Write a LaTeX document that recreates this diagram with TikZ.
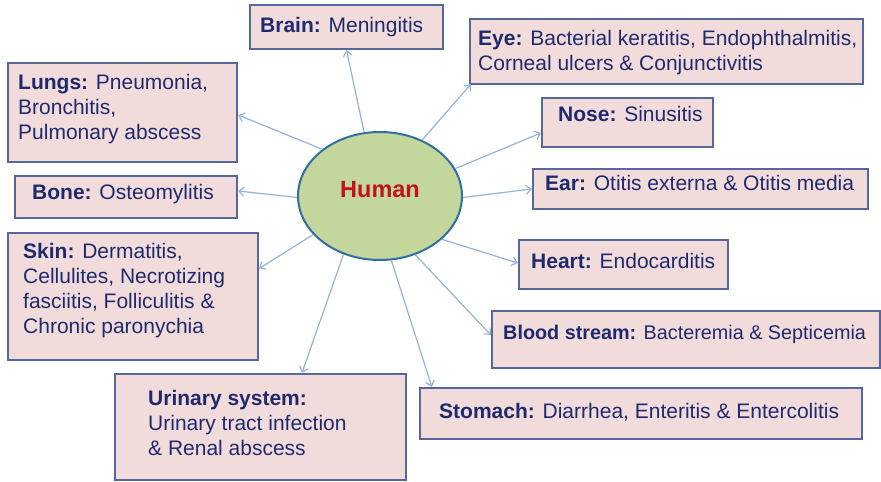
\documentclass[tikz,border=0pt]{standalone}
\usepackage{fontspec}
\setmainfont{Liberation Sans}
\usetikzlibrary{arrows.meta,shapes.geometric}
\definecolor{txtnavy}{HTML}{1F2A6E}
\definecolor{boxfill}{HTML}{F2DCDB}
\definecolor{boxline}{HTML}{56679B}
\definecolor{ellfill}{HTML}{C3D69B}
\definecolor{ellline}{HTML}{2F6FA3}
\definecolor{arrowcol}{HTML}{95B3D7}
\definecolor{humanred}{HTML}{C0141C}
\newcommand{\tl}[1]{\begin{tabular}[t]{@{}l@{}}#1\end{tabular}}
\begin{document}
\begin{tikzpicture}[x=1pt,y=-1pt,
  boxnode/.style={draw=boxline,fill=boxfill,line width=2.3pt,rectangle,inner sep=0pt},
  txt/.style={anchor=base west,inner sep=0pt,text=txtnavy,font=\fontsize{21}{25}\selectfont},
  conn/.style={draw=arrowcol,line width=1.2pt,-{Straight Barb[length=5pt,width=9pt]}}]
\useasboundingbox (0,0) rectangle (881,482);
% boxes
\node[boxnode,minimum width=193pt,minimum height=44pt] (brain) at (346.5,27) {};
\node[boxnode,minimum width=393pt,minimum height=65pt] (eye) at (666.5,51.5) {};
\node[boxnode,minimum width=229pt,minimum height=99pt] (lungs) at (122.5,112.5) {};
\node[boxnode,minimum width=222pt,minimum height=42pt] (bone) at (126,197) {};
\node[boxnode,minimum width=250pt,minimum height=127pt] (skin) at (133,296.5) {};
\node[boxnode,minimum width=171pt,minimum height=49pt] (nose) at (627.5,122.5) {};
\node[boxnode,minimum width=335pt,minimum height=40pt] (ear) at (700.5,189) {};
\node[boxnode,minimum width=209pt,minimum height=49pt] (heart) at (623.5,264.5) {};
\node[boxnode,minimum width=388pt,minimum height=57pt] (blood) at (686,339.5) {};
\node[boxnode,minimum width=442pt,minimum height=51pt] (stomach) at (641,413.5) {};
\node[boxnode,minimum width=291pt,minimum height=106pt] (urinary) at (260.5,427) {};
% texts
\node[txt] (brainT) at (260,32) {\textbf{Brain:} Meningitis};
\node[txt] (eyeT) at (478,45) {\tl{\textbf{Eye:} Bacterial keratitis, Endophthalmitis,\\Corneal ulcers \& Conjunctivitis}};
\node[txt] (lungsT) at (18,89) {\tl{\textbf{Lungs:} Pneumonia,\\Bronchitis,\\Pulmonary abscess}};
\node[txt] (boneT) at (32,199) {\textbf{Bone:} Osteomylitis};
\node[txt] (skinT) at (23,258) {\tl{\textbf{Skin:} Dermatitis,\\Cellulites, Necrotizing\\fasciitis, Folliculitis \&\\Chronic paronychia}};
\node[txt] (noseT) at (558,121) {\textbf{Nose:} Sinusitis};
\node[txt] (earT) at (545,190) {\textbf{Ear:} Otitis externa \& Otitis media};
\node[txt] (heartT) at (531,268) {\textbf{Heart:} Endocarditis};
\node[txt,font=\fontsize{19.8}{24}\selectfont] (bloodT) at (503,339) {\textbf{Blood stream:} Bacteremia \& Septicemia};
\node[txt] (stomachT) at (439,418) {\textbf{Stomach:} Diarrhea, Enteritis \& Entercolitis};
\node[txt] (urinaryT) at (148,405) {\tl{\textbf{Urinary system:}\\Urinary tract infection\\\& Renal abscess}};
% centre
\node[ellipse,draw=ellline,fill=ellfill,line width=2pt,minimum width=164pt,minimum height=128pt,inner sep=0pt] (human) at (380,196) {};
\node[anchor=base,inner sep=0pt,text=humanred,font=\fontsize{23.5}{27}\selectfont\bfseries] (humanT) at (380,197) {Human};
% connectors
\draw[conn] (human.104) -- (brain.south);
\draw[conn] (human.53) -- ([xshift=2pt,yshift=1pt]eye.south west);
\draw[conn] (human.141) -- ([yshift=-2.5pt]lungs.east);
\draw[conn] (human.181) -- ([yshift=6pt]bone.east);
\draw[conn] (human.210) -- ([yshift=28pt]skin.east);
\draw[conn] (human.238) -- ([xshift=41.5pt]urinary.north);
\draw[conn] (human.280) -- ([xshift=13pt]stomach.north west);
\draw[conn] (human.301) -- ([yshift=4.5pt]blood.west);
\draw[conn] (human.325) -- ([yshift=1.5pt]heart.west);
\draw[conn] (human.359) -- (ear.west);
\draw[conn] (human.20) -- ([yshift=-10.5pt]nose.west);
\end{tikzpicture}
\end{document}
